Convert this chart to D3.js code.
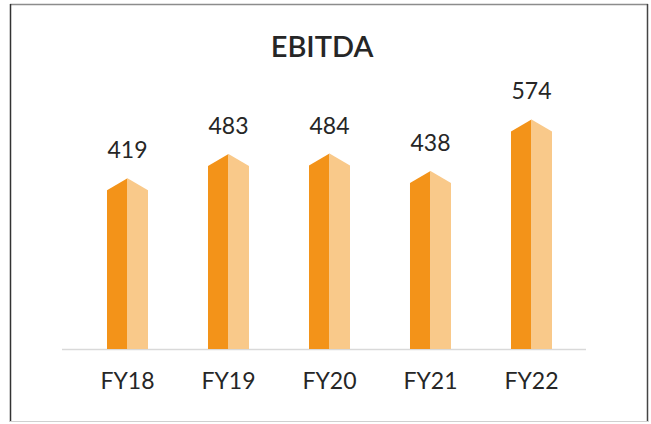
<!DOCTYPE html>
<html>
<head>
<meta charset="utf-8">
<script src="https://cdn.jsdelivr.net/npm/d3@7"></script>
<style>
  html, body { margin: 0; padding: 0; background: #fff; }
  svg { display: block; }
  text { font-family: Lato, "Open Sans", sans-serif; fill: #262626; }
</style>
</head>
<body>
<div id="chart"></div>
<script>
var years = ["FY18", "FY19", "FY20", "FY21", "FY22"];
var ebitda = [419, 483, 484, 438, 574];
var chartTitle = "EBITDA";

var W = 651, H = 424
    , baseY = 349
    , peak = 12
    , dark = "#f39319"
    , light = "#f9c98a";

var svg = d3.select("#chart").append("svg")
    .attr("width", W)
    .attr("height", H);

// frame
svg.append("line").attr("x1", 10).attr("x2", 648).attr("y1", 4.5).attr("y2", 4.5)
    .attr("stroke", "#8c8c8c").attr("stroke-width", 1.5);
svg.append("line").attr("x1", 10.5).attr("x2", 10.5).attr("y1", 4).attr("y2", 422)
    .attr("stroke", "#333").attr("stroke-width", 1.5);
svg.append("line").attr("x1", 647.5).attr("x2", 647.5).attr("y1", 4).attr("y2", 422)
    .attr("stroke", "#444").attr("stroke-width", 1.5);
svg.append("line").attr("x1", 10).attr("x2", 648).attr("y1", 421.5).attr("y2", 421.5)
    .attr("stroke", "#d0d0d0").attr("stroke-width", 1);

var x = d3.scaleBand()
    .domain(years)
    .range([76.7, 582.3])
    .paddingInner(0.594)
    .paddingOuter(0.3);

var y = d3.scaleLinear()
    .domain([0, 600])
    .range([baseY, baseY - 0.379 * 600]);

svg.append("text")
    .attr("x", 322)
    .attr("y", 57)
    .attr("text-anchor", "middle")
    .style("font-size", "29px")
    .style("font-weight", "600")
    .text(chartTitle);

// axis baseline
svg.append("line")
    .attr("x1", 62).attr("x2", 586)
    .attr("y1", baseY + 0.5).attr("y2", baseY + 0.5)
    .attr("stroke", "#d9d9d9")
    .attr("stroke-width", 1.5);

var bars = svg.append("g").selectAll("g")
    .data(years.map((c, i) => ({cat: c, v: ebitda[i]})))
    .enter().append("g");

// left (dark) half
bars.append("path")
    .attr("fill", dark)
    .attr("d", function(d) {
        var x0 = x(d.cat), xm = x0 + x.bandwidth() / 2, yt = y(d.v);
        return "M" + x0 + "," + baseY + "L" + x0 + "," + yt +
            "L" + xm + "," + (yt - peak) + "L" + xm + "," + baseY + "Z";
    });

// right (light) half
bars.append("path")
    .attr("fill", light)
    .attr("d", function(d) {
        var x1 = x(d.cat) + x.bandwidth(), xm = x(d.cat) + x.bandwidth() / 2, yt = y(d.v);
        return "M" + xm + "," + baseY + "L" + xm + "," + (yt - peak) +
            "L" + x1 + "," + yt + "L" + x1 + "," + baseY + "Z";
    });

bars.append("text")
    .attr("x", d => x(d.cat) + x.bandwidth() / 2)
    .attr("y", d => y(d.v) - peak - 20)
    .attr("text-anchor", "middle")
    .style("font-size", "23px")
    .text(d => d.v);

svg.append("g").selectAll("text")
    .data(years)
    .enter().append("text")
    .attr("x", d => x(d) + x.bandwidth() / 2)
    .attr("y", 389)
    .attr("text-anchor", "middle")
    .style("font-size", "23px")
    .text(d => d);
</script>
</body>
</html>
